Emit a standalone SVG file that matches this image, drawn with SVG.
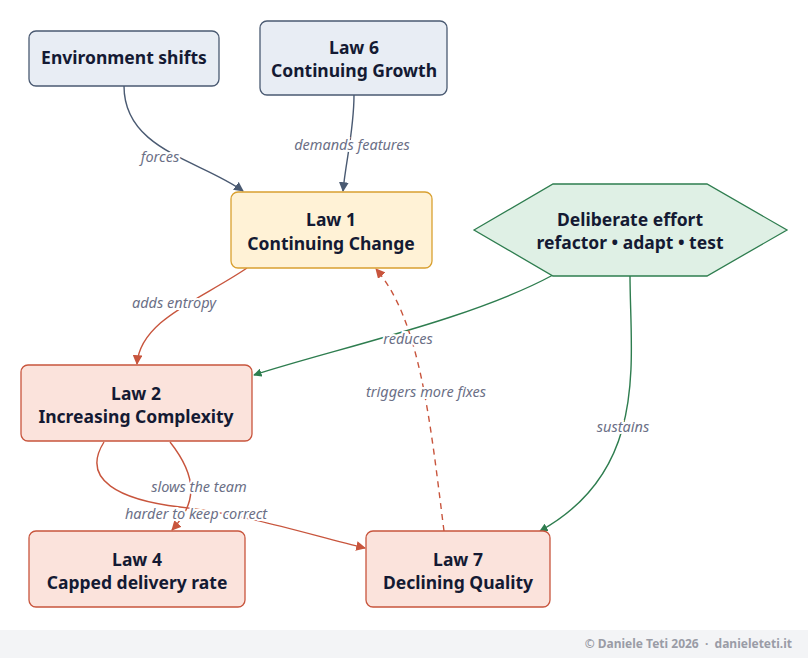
<svg xmlns="http://www.w3.org/2000/svg" width="808" height="658" viewBox="0 0 808 658">
<defs>
<style>
.n{font-family:"Noto Sans","Open Sans",sans-serif;font-weight:bold;font-size:17.5px;fill:#141a33;text-anchor:middle}
.l{font-family:"Noto Sans","Open Sans",sans-serif;font-style:italic;font-size:14.5px;fill:#6b6f86;text-anchor:middle;stroke:#fff;stroke-width:4px;paint-order:stroke}
.g{fill:#e8edf4;stroke:#4a5a72;stroke-width:1.3}
.y{fill:#fff2d6;stroke:#d9a030;stroke-width:1.3}
.r{fill:#fbe3dc;stroke:#c8553d;stroke-width:1.3}
.e{fill:none;stroke-width:1.4}
</style>
<marker id="ag" viewBox="0 0 10 10" refX="9" refY="5" markerWidth="7" markerHeight="7" orient="auto"><path d="M0,0L10,5L0,10z" fill="#4a5a72"/></marker>
<marker id="ar" viewBox="0 0 10 10" refX="9" refY="5" markerWidth="7" markerHeight="7" orient="auto"><path d="M0,0L10,5L0,10z" fill="#c8553d"/></marker>
<marker id="at" viewBox="0 0 10 10" refX="9" refY="5" markerWidth="6" markerHeight="6" orient="auto"><path d="M0,0L10,5L0,10z" fill="#2e7d4f"/></marker>
</defs>
<rect width="808" height="658" fill="#fff"/>
<rect x="0" y="630" width="808" height="28" fill="#f3f4f6"/>
<text x="792" y="648" style="font-family:'Noto Sans',sans-serif;font-size:12px;font-weight:bold;fill:#9a9ca6;white-space:pre" text-anchor="end">© Daniele Teti 2026  ·  danieleteti.it</text>
<g id="connectors">
<path class="e" stroke="#4a5a72" d="M124,86 C124,150 200,160 243,191" marker-end="url(#ag)"/>
<path class="e" stroke="#4a5a72" d="M354,95 C354,130 346,160 343,191" marker-end="url(#ag)"/>
<path class="e" stroke="#c8553d" d="M247,268 C200,300 140,320 137,364" marker-end="url(#ar)"/>
<path class="e" stroke="#2e7d4f" stroke-width="2" d="M553,275 C470,320 330,350 254,375" marker-end="url(#at)"/>
<path class="e" stroke="#2e7d4f" stroke-width="2" d="M630,275 C630,360 650,470 540,531" marker-end="url(#at)"/>
<path class="e" stroke="#c8553d" stroke-dasharray="6,5" d="M444,531 C430,420 420,320 376,269" marker-end="url(#ar)"/>
<path class="e" stroke="#c8553d" d="M170,442 C200,480 195,505 172,530" marker-end="url(#ar)"/>
<path class="e" stroke="#c8553d" d="M104,442 C80,480 120,500 180,507 C250,515 310,535 365,548" marker-end="url(#ar)"/>
<text class="l" x="160" y="162">forces</text>
<text class="l" x="352" y="150">demands features</text>
<text class="l" x="174" y="308">adds entropy</text>
<text class="l" x="408" y="344">reduces</text>
<text class="l" x="623" y="432">sustains</text>
<text class="l" x="426" y="397">triggers more fixes</text>
<text class="l" x="199" y="492">slows the team</text>
<text class="l" x="196" y="519">harder to keep correct</text>
</g>
<g id="env"><rect class="g" x="29" y="31" width="190" height="55" rx="7"/><text class="n" x="124" y="64">Environment shifts</text></g>
<g id="law6"><rect class="g" x="260" y="21" width="187" height="74" rx="7"/><text class="n" x="354" y="54">Law 6</text><text class="n" x="354" y="77">Continuing Growth</text></g>
<g id="law1"><rect class="y" x="231" y="192" width="201" height="76" rx="7"/><text class="n" x="331" y="226">Law 1</text><text class="n" x="331" y="250">Continuing Change</text></g>
<g id="effort"><polygon points="474,230 553,184 707,184 787,230 707,276 553,276" fill="#dff0e5" stroke="#2e7d4f" stroke-width="1.3"/><text class="n" x="630" y="226">Deliberate effort</text><text class="n" x="630" y="249">refactor • adapt • test</text></g>
<g id="law2"><rect class="r" x="21" y="365" width="231" height="76" rx="7"/><text class="n" x="136" y="400">Law 2</text><text class="n" x="136" y="423">Increasing Complexity</text></g>
<g id="law4"><rect class="r" x="29" y="531" width="216" height="76" rx="7"/><text class="n" x="137" y="566">Law 4</text><text class="n" x="137" y="589">Capped delivery rate</text></g>
<g id="law7"><rect class="r" x="366" y="531" width="184" height="76" rx="7"/><text class="n" x="458" y="566">Law 7</text><text class="n" x="458" y="589">Declining Quality</text></g>
</svg>
